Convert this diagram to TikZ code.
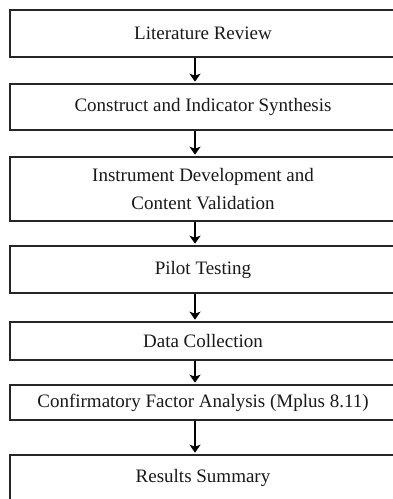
\documentclass[tikz,border=0pt]{standalone}
\usepackage{fontspec}
\setmainfont{Liberation Serif}
\usetikzlibrary{arrows.meta}
\begin{document}
\begin{tikzpicture}[x=1pt,y=-1pt,
  box/.style={draw=black!85, line width=1.6pt, minimum width=386pt, inner sep=0pt,
    align=center, font=\fontsize{19}{28}\selectfont, text=black!90},
  arr/.style={line width=2pt, draw=black, -{Stealth[length=8pt,width=11pt,inset=2pt]}, shorten >=1.5pt}]
\clip (0,0) rectangle (393,499);
\fill[white] (0,0) rectangle (393,499);
\node[box, minimum height=47pt] (b1) at (203,33.5) {Literature Review};
\node[box, minimum height=46pt] (b2) at (203,107) {Construct and Indicator Synthesis};
\node[box, minimum height=64pt] (b3) at (203,189) {Instrument Development and\\Content Validation};
\node[box, minimum height=47pt] (b4) at (203,269.5) {Pilot Testing};
\node[box, minimum height=38pt] (b5) at (203,341) {Data Collection};
\node[box, minimum height=35pt] (b6) at (203,402.5) {Confirmatory Factor Analysis (Mplus 8.11)};
\node[box, minimum height=46pt] (b7) at (203,478) {Results Summary};
\foreach \a/\b in {b1/b2,b2/b3,b3/b4,b4/b5,b5/b6,b6/b7}
  \draw[arr] ([xshift=-8pt]\a.south) -- ([xshift=-8pt]\b.north);
\end{tikzpicture}
\end{document}
